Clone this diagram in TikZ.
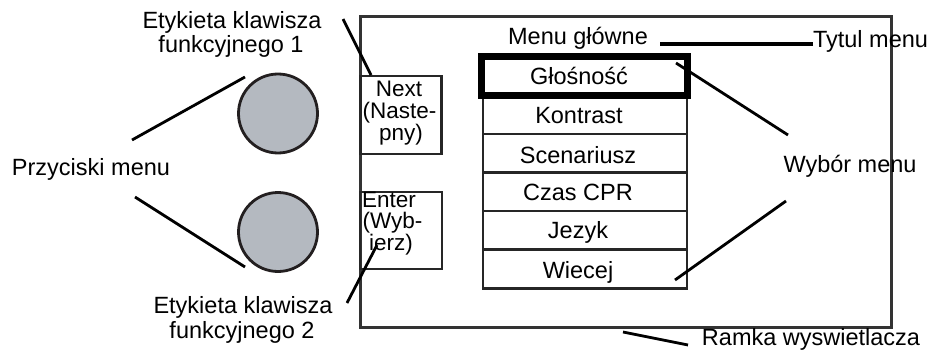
\documentclass[tikz,border=0pt]{standalone}
\usepackage{fontspec}
\setmainfont{Liberation Sans}
\definecolor{btnfill}{HTML}{B4B9C0}
\definecolor{btnedge}{HTML}{231F20}
\definecolor{framecol}{HTML}{333333}
\begin{document}
\begin{tikzpicture}[x=1pt,y=-1pt,
  lbl/.style={inner sep=0pt,anchor=base,font=\fontsize{23.5}{27}\selectfont},
  keytxt/.style={inner sep=0pt,anchor=base,font=\fontsize{22.5}{22}\selectfont},
  leader/.style={line width=2.8pt,black},
  button/.style={circle,draw=btnedge,line width=2.8pt,fill=btnfill,minimum size=79pt,inner sep=0pt},
  keybox/.style={draw=black!85,line width=2.8pt,inner sep=0pt},
  rowline/.style={draw=black!85,line width=2.8pt}]
\useasboundingbox (0,0) rectangle (933,350);

% display frame
\node[draw=framecol,line width=3pt,inner sep=0pt,minimum width=531pt,minimum height=310pt] (frame) at (625.5,172) {};

% hardware buttons
\node[button] (btn1) at (278,113.5) {};
\node[button] (btn2) at (278,232) {};

% soft key label boxes
\node[keybox,minimum width=81pt,minimum height=78pt] (nextbox) at (401,115) {};
\node[keybox,minimum width=82pt,minimum height=77pt] (enterbox) at (401,230.5) {};
\node[keytxt] (n1) at (399,97) {Next};
\node[keytxt] (n2) at (399.5,118.5) {(Naste-};
\node[keytxt] (n3) at (401,140) {pny)};
\node[keytxt] (e1) at (389,207) {Enter};
\node[keytxt] (e2) at (392.5,228.5) {(Wyb-};
\node[keytxt] (e3) at (391,250) {ierz)};

% menu list
\foreach \t/\b in {57/95.5,95.5/134,134/172.5,172.5/211,211/249.5,249.5/288.5}
  \draw[rowline] (483,\t) rectangle (687,\b);
\draw[line width=7.5pt,black] (481.5,56.5) rectangle (687.5,95.5);

\node[lbl] (title) at (578,45) {Menu główne};
\node[lbl] (m1) at (579,85) {Głośność};
\node[lbl] (m2) at (579,124) {Kontrast};
\node[lbl] (m3) at (578,163) {Scenariusz};
\node[lbl] (m4) at (578,200.5) {Czas CPR};
\node[lbl] (m5) at (578,238.5) {Jezyk};
\node[lbl] (m6) at (578,278) {Wiecej};

% callout labels
\node[lbl] (sk1a) at (232,29) {Etykieta klawisza};
\node[lbl] (sk1b) at (231,53) {funkcyjnego 1};
\node[lbl] (btns) at (91,175) {Przyciski menu};
\node[lbl] (sk2a) at (243,313) {Etykieta klawisza};
\node[lbl] (sk2b) at (242,338) {funkcyjnego 2};
\node[lbl] (ttl) at (870.5,48) {Tytul menu};
\node[lbl] (sel) at (850,172) {Wybór menu};
\node[lbl] (frm) at (811,345) {Ramka wyswietlacza};

% leader end points
\coordinate (sk1from) at (343,19);
\coordinate (sk1to) at (371,75);
\coordinate (b1from) at (132,140);
\coordinate (b1to) at (245,77);
\coordinate (b2from) at (135,197);
\coordinate (b2to) at (245,267);
\coordinate (sk2from) at (347,303);
\coordinate (sk2to) at (377,245);
\coordinate (ttlfrom) at (813,44);
\coordinate (ttlto) at (660,44);
\coordinate (selfrom1) at (788,135);
\coordinate (selto1) at (676,63);
\coordinate (selfrom2) at (786,201);
\coordinate (selto2) at (675,280);
\coordinate (frmfrom) at (688,345);
\coordinate (frmto) at (623,332);

% leaders
\draw[leader] (sk1from) -- (sk1to);
\draw[leader] (b1from) -- (b1to);
\draw[leader] (b2from) -- (b2to);
\draw[leader] (sk2from) -- (sk2to);
\draw[leader,line width=3.2pt] (ttlfrom) -- (ttlto);
\draw[leader] (selfrom1) -- (selto1);
\draw[leader] (selfrom2) -- (selto2);
\draw[leader] (frmfrom) -- (frmto);
\end{tikzpicture}
\end{document}
